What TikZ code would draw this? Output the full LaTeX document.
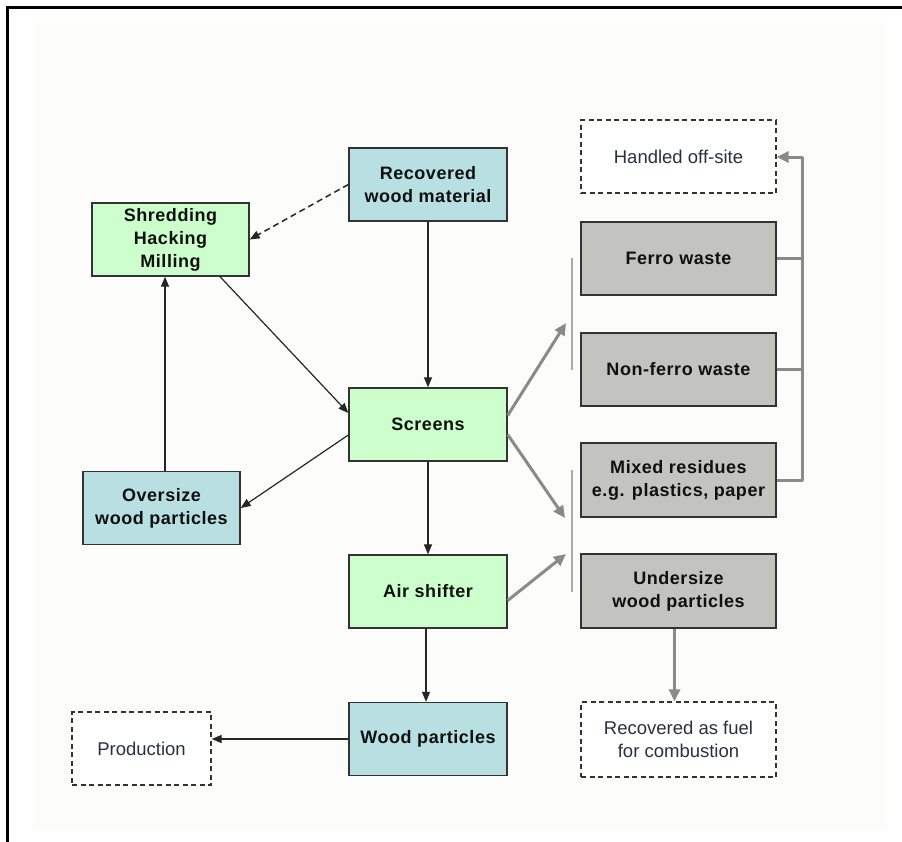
\documentclass[tikz,border=0pt]{standalone}
\usepackage{fontspec}
\setmainfont{Liberation Sans}
\newfontfamily\boxbold[LetterSpace=3]{Liberation Sans Bold}
\usetikzlibrary{arrows.meta,calc}
\definecolor{bluefill}{HTML}{B8E0E2}
\definecolor{greenfill}{HTML}{CCFFCC}
\definecolor{grayfill}{HTML}{C3C4C0}
\definecolor{bgfill}{HTML}{FCFCFA}
\definecolor{arrgray}{HTML}{8A8A8A}
\definecolor{thingray}{HTML}{A8A8A8}
\definecolor{txtdark}{HTML}{101010}
\definecolor{txtsoft}{HTML}{2A3040}
\tikzset{
  x=1pt, y=-1pt,
  boxbase/.style={draw=black!80, line width=1.3pt, minimum height=73pt, inner sep=0pt, align=center,
    font=\fontsize{18}{23}\boxbold, text=txtdark},
  bluebox/.style={boxbase, fill=bluefill, minimum width=158pt},
  greenbox/.style={boxbase, fill=greenfill, minimum width=158pt},
  graybox/.style={boxbase, fill=grayfill, minimum width=195pt},
  dashbox/.style={draw=black!80, line width=1.3pt, dash pattern=on 5pt off 3.5pt, fill=white, minimum height=73pt,
    inner sep=0pt, align=center, font=\fontsize{18.5}{23}\selectfont, text=txtsoft},
  blackarrow/.style={draw=black!85, line width=1.2pt, -{Triangle[length=10pt,width=8pt]}},
  grayarrow/.style={draw=arrgray, line width=3pt, -{Triangle[length=12pt,width=11pt]}},
  grayline/.style={draw=arrgray, line width=3pt},
  thinline/.style={draw=thingray, line width=1.2pt},
}
\begin{document}
\begin{tikzpicture}
\useasboundingbox (0,0) rectangle (902,841);
\fill[white] (0,0) rectangle (902,841);
\fill[bgfill] (33,23) rectangle (887,830);
\draw[black, line width=3pt] (7,843) -- (7,7) -- (904,7);

% left/centre column
\node[bluebox] (rec) at (428,184.5) {Recovered\\wood material};
\node[greenbox, minimum width=157pt] (shr) at (170.5,239.5) {Shredding\\Hacking\\Milling};
\node[greenbox] (scr) at (428,424.5) {Screens};
\node[bluebox, minimum width=157pt] (ovs) at (161.5,508) {Oversize\\wood particles};
\node[greenbox] (air) at (428,591.5) {Air shifter};
\node[bluebox] (wp) at (428,739) {Wood particles};
\node[dashbox, minimum width=139pt] (prod) at (141.5,748.5) {Production};

% right column
\node[dashbox, minimum width=195pt] (hos) at (678.5,156.5) {Handled off-site};
\node[graybox] (fer) at (678.5,258.5) {Ferro waste};
\node[graybox] (nfe) at (678.5,369.5) {Non-ferro waste};
\node[graybox, minimum height=74pt] (mix) at (678.5,480) {Mixed residues\\e.g. plastics, paper};
\node[graybox, minimum height=74pt] (und) at (678.5,591) {Undersize\\wood particles};
\node[dashbox, minimum width=195pt, minimum height=75pt] (fuel) at (678.5,739.5) {Recovered as fuel\\for combustion};

% black connectors
\draw[blackarrow] (rec.south) -- (scr.north);
\draw[blackarrow, line width=1.5pt, dash pattern=on 6pt off 4pt] (rec.west) -- (shr.east);
\draw[blackarrow] ($(shr.south)+(49.5,0)$) -- ($(scr.west)+(0,-11.5)$);
\draw[blackarrow] ($(scr.west)+(0,10.5)$) -- (ovs.east);
\draw[blackarrow] ($(ovs.north)+(3.5,0)$) -- ($(shr.south)+(-5.5,0)$);
\draw[blackarrow] (scr.south) -- (air.north);
\draw[blackarrow] ($(air.south)+(-2,0)$) -- ($(wp.north)+(-2,0)$);
\draw[blackarrow] (wp.west) -- (prod.east |- wp.west);

% thin vertical brackets
\coordinate (b1t) at (572,258);
\coordinate (b1b) at (572,370);
\coordinate (b2t) at (572,470);
\coordinate (b2b) at (572,592);
\draw[thinline] (b1t) -- (b1b);
\draw[thinline] (b2t) -- (b2b);

% gray arrows to the separated fractions
\coordinate (g1) at (566,323);
\coordinate (g2) at (565,518);
\coordinate (g3) at (566,554);
\draw[grayarrow] ($(scr.east)+(0,-9)$) -- (g1);
\draw[grayarrow] ($(scr.east)+(0,10)$) -- (g2);
\draw[grayarrow] ($(air.east)+(0,9)$) -- (g3);

% bus to handled off-site
\coordinate (bustop) at (802,157);
\coordinate (busbot) at (802,480);
\draw[grayline] (fer.east) -- (fer.east -| bustop);
\draw[grayline] (nfe.east) -- (nfe.east -| bustop);
\draw[grayarrow, line join=round] (mix.east) -- (busbot) -- (bustop) -- (hos.east |- bustop);

% undersize to fuel
\draw[grayarrow] ($(und.south)+(-4,0)$) -- ($(fuel.north)+(-4,0)$);
\end{tikzpicture}
\end{document}
